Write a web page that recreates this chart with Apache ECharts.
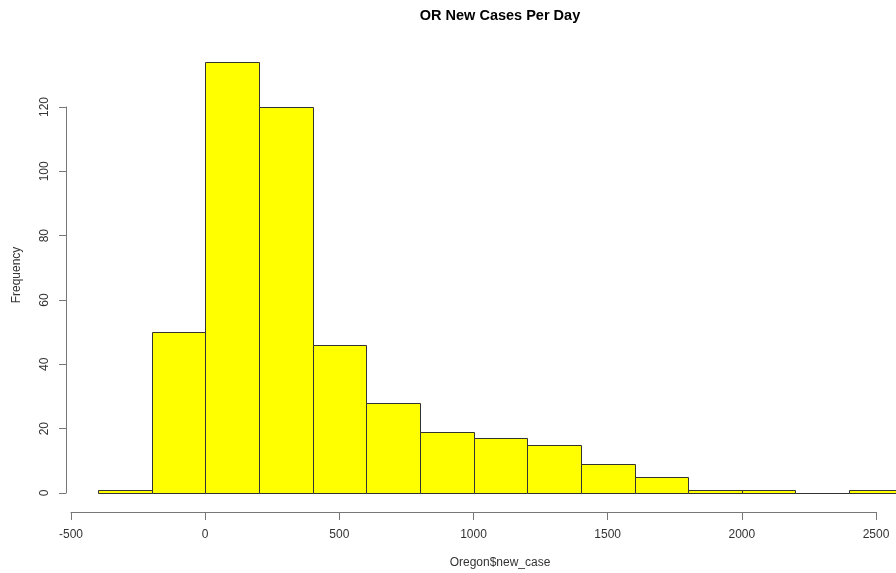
<!DOCTYPE html>
<html>
<head>
<meta charset="utf-8">
<script src="https://cdn.jsdelivr.net/npm/echarts@6/dist/echarts.min.js"></script>
<style>
html,body{margin:0;padding:0;background:#fff;}
#chart{width:896px;height:573px;}
</style>
</head>
<body>
<div id="chart"></div>
<script>
const binStarts = [-400, -200, 0, 200, 400, 600, 800, 1000, 1200, 1400, 1600, 1800, 2000, 2200, 2400];
const binEnds   = [-200, 0, 200, 400, 600, 800, 1000, 1200, 1400, 1600, 1800, 2000, 2200, 2400, 2600];
const counts    = [1, 50, 134, 120, 46, 28, 19, 17, 15, 9, 5, 1, 1, 0, 1];
const xTicks = [-500, 0, 500, 1000, 1500, 2000, 2500];
const yTicks = [0, 20, 40, 60, 80, 100, 120];

const data = binStarts.map((s, i) => [s, binEnds[i], counts[i]]);
const font = '"Liberation Sans", Arial, sans-serif';
const chart = echarts.init(document.getElementById('chart'), null, {renderer: 'canvas'});

chart.setOption({
  animation: false,
  backgroundColor: '#ffffff',
  grid: {left: 71, right: 20, top: 107, bottom: 80},
  xAxis: {
    type: 'value', min: -500, max: 2500, interval: 500, offset: 19,
    splitLine: {show: false},
    axisLine: {show: true, onZero: false, lineStyle: {color: '#777', width: 1}},
    axisTick: {show: true, length: 8, lineStyle: {color: '#777'}},
    axisLabel: {margin: 17, color: '#333', fontFamily: font, fontSize: 12,
      formatter: v => xTicks.includes(v) ? String(v) : ''}
  },
  yAxis: {
    type: 'value', min: 0, max: 120, interval: 20, offset: 5,
    splitLine: {show: false},
    axisLine: {show: true, onZero: false, lineStyle: {color: '#777', width: 1}},
    axisTick: {show: true, length: 7, lineStyle: {color: '#777'}},
    axisLabel: {margin: 15, rotate: 90, color: '#333', fontFamily: font, fontSize: 12,
      formatter: v => yTicks.includes(v) ? String(v) : ''}
  },
  graphic: [
    {type: 'text', x: 500, y: 16, style: {text: 'OR New Cases Per Day', fill: '#000', font: 'bold 14.5px ' + font, textAlign: 'center', textVerticalAlign: 'middle'}},
    {type: 'text', x: 500, y: 563, style: {text: 'Oregon$new_case', fill: '#333', font: '12px ' + font, textAlign: 'center', textVerticalAlign: 'middle'}},
    {type: 'text', x: 17, y: 275, rotation: Math.PI / 2, style: {text: 'Frequency', fill: '#333', font: '12px ' + font, textAlign: 'center', textVerticalAlign: 'middle'}}
  ],
  series: [{
    type: 'custom',
    clip: false,
    data: data,
    encode: {x: [0, 1], y: 2},
    renderItem: function (params, api) {
      const p0 = api.coord([api.value(0), api.value(2)]);
      const p1 = api.coord([api.value(1), 0]);
      return {
        type: 'rect',
        shape: {x: Math.round(p0[0]) + 0.5, y: Math.round(p0[1]) + 0.5,
                width: Math.round(p1[0]) - Math.round(p0[0]), height: Math.round(p1[1]) - Math.round(p0[1])},
        style: {fill: '#ffff00', stroke: '#333', lineWidth: 1}
      };
    }
  }]
});
</script>
</body>
</html>
